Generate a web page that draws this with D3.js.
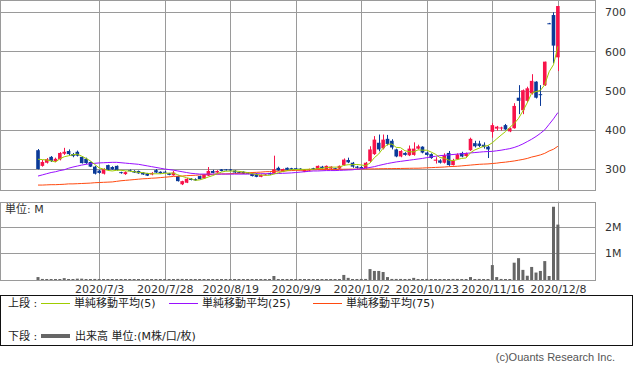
<!DOCTYPE html>
<html>
<head>
<meta charset="utf-8">
<script src="https://cdn.jsdelivr.net/npm/d3@7"></script>
<style>
  body { margin: 0; background: #fff; }
  svg { display: block; font-family: "DejaVu Sans", "Noto Sans CJK JP", sans-serif; }
</style>
</head>
<body>
<svg id="chart" width="633" height="373"></svg>
<script>
// daily bars, 2020/6/15 .. 2020/12/8 (index 0..119)
const opens = [348,308,316,331,320,325,339,346,338,344, 331,326,318,306,296,288,310,305,308,292,
  287,297,295,295,291,289,286,297,293,293, 289,284,282,261,265,275,274,282,276,283,
  295,291,299,299,299,296,292,293,291,288, 288,280,285,290,289,303,293,303,302,302,
  301,293,296,302,299,306,300,301,302,301, 310,323,316,306,305,302,320,338,367,353,
  377,372,350,332,341,335,336,352,357,342, 338,321,322,316,341,310,325,341,333,348,
  366,365,362,357,395,403,405,412,396,404, 482,450,474,493,523,491,514,672,693,585];
const highs = [351,323,328,333,329,343,354,350,341,347, 333,329,319,308,298,302,311,307,309,293,
  294,299,297,296,292,290,292,300,294,295, 290,295,283,270,277,277,276,283,287,305,
  298,297,300,300,300,297,293,294,292,289, 289,286,287,291,334,306,301,304,303,303,
  302,300,301,303,309,308,309,307,303,309, 327,329,318,308,307,318,358,384,388,388,
  387,376,352,348,343,360,368,362,358,344, 340,330,325,340,346,326,340,344,342,380,
  372,372,368,360,417,410,408,415,406,468, 514,503,510,542,524,514,574,673,700,716];
const lows = [299,306,314,318,318,322,336,334,330,332, 314,313,305,286,288,286,296,298,296,288,
  285,294,290,288,285,282,284,290,288,291, 284,283,268,259,264,271,270,273,275,282,
  289,290,294,296,295,290,290,287,287,281, 279,279,284,285,288,295,292,297,298,298,
  299,292,295,298,298,301,299,300,299,300, 308,315,303,301,299,301,318,336,345,350,
  360,350,330,330,334,333,334,350,340,334, 326,314,314,314,308,309,324,330,331,346,
  355,356,352,328,380,398,398,400,394,403, 440,440,470,490,480,461,512,670,570,550];
const closes = [300,318,325,320,326,341,344,338,333,334, 315,315,306,288,290,300,298,299,297,290,
  292,295,291,289,286,283,290,291,289,292, 285,291,269,269,275,272,271,274,286,295,
  290,295,295,297,296,291,291,288,288,282, 280,285,286,286,299,296,300,298,299,299,
  300,299,300,299,308,302,308,306,300,308, 324,317,306,303,301,316,350,375,350,375,
  364,355,332,346,336,352,352,358,342,336, 328,324,316,335,310,322,337,332,340,377,
  358,359,356,350,412,408,406,401,404,461, 474,501,506,525,482,489,574,671,615,716];

// moving averages as drawn (5 / 25 / 75 days)
const ma5 = [325,324,323,321,317.8,326,331.2,333.8,336.4,338, 332.8,327,320.6,311.6,302.8,299.8,296.4,295,296.8,296.8,
  295.2,294.6,293,291.4,290.6,288.8,287.8,287.8,287.8,289, 289.4,289.6,285.2,281.2,277.8,275.2,271.2,272.2,275.6,279.6,
  283.2,288,292.2,294.4,294.6,294.8,294,292.6,290.8,288, 285.8,284.6,284.2,283.8,287.2,290.4,293.4,295.8,298.4,298.4,
  299.2,299,299.4,299.4,301.2,301.6,303.4,304.6,304.8,304.8, 309.2,311,311,311.6,310.2,308.6,315.2,329,338.4,353.2,
  362.8,363.8,355.2,354.4,346.6,344.2,343.6,348.8,348,348, 343.2,337.6,329.2,327.8,322.6,321.4,324,327.2,328.2,341.6,
  348.8,353.2,358,360,367,377,386.4,395.4,406.2,416, 429.2,448.2,469.2,493.4,497.6,500.6,515.2,548.2,566.2,613];
const ma25 = [282,285,288,291,293,296,298,302,305,307.5, 310,312,313.5,314.5,315.5,316,316.5,317,317,316,
  315,314,313,312,310,308,306,304,302,300, 298.5,297,295,293,291,289,288,287,287,287,
  287,287,287,287,287,287,287,287,287,287.5, 287.5,288,288,288,288,288.5,289,289.5,290,291,
  292,293,294,295,295,295.5,296,296,296,296.5, 297,297.5,298,299.5,300.5,302,304,306,309,311.5,
  314,316,318,319.5,321,322.5,324,325.5,327,329, 331,332.5,334,335,336,337,338,339,340,341,
  342,343,344,344.5,345,346.5,348,350,352,355, 359,364,370,376,383,391,400,414,428,444];
const ma75 = [259,259,259.5,260,260,260.5,261,262,262,262.5, 263,263.5,264,265,265.5,266,266.5,267,268.5,270,
  271,272,273,274,275,275.5,276.5,277,278,279, 280,281,281.5,282,283,283.5,284,285,285.5,286,
  286.5,287,287.5,287.5,288,288.5,289,289.5,290,291, 291.5,292,293,293.5,294,294.5,295,295.5,296,296.5,
  296.6,297,297.5,298,298.3,298.5,298.7,299,299,299.2, 299.4,299.6,299.7,299.8,300,300,300.2,300.4,300.6,300.8,
  301,301,301.2,301.4,301.6,301.8,302,302,302.5,303, 303.5,304,304.5,305,306,306.5,307,308,309,310,
  311,312,312.5,313,314,315,316.5,317.5,319,320.5, 322.5,324.5,327,330.5,333,336,340,346,350.5,358];

// volume, millions
const volumes = [0.11,0.04,0.02,0.02,0.02,0.02,0.07,0.03,0.02,0.05, 0.05,0.02,0.01,0.04,0.02,0.01,0.02,0.01,0.01,0.02,
  0.01,0.01,0.02,0.01,0.01,0.01,0.02,0.01,0.01,0.01, 0.01,0.02,0.04,0.04,0.02,0.01,0.01,0.01,0.01,0.03,
  0.01,0.01,0.01,0.02,0.01,0.01,0.01,0.01,0.01,0.01, 0.01,0.01,0.01,0.01,0.15,0.02,0.01,0.01,0.01,0.01,
  0.01,0.01,0.01,0.01,0.02,0.01,0.01,0.01,0.01,0.02, 0.19,0.08,0.02,0.01,0.04,0.04,0.41,0.34,0.34,0.30,
  0.11,0.04,0.04,0.04,0.02,0.04,0.08,0.02,0.01,0.04, 0.01,0.01,0.02,0.01,0.02,0.04,0.04,0.02,0.02,0.11,
  0.02,0.04,0.02,0.02,0.56,0.11,0.04,0.02,0.02,0.65, 0.82,0.38,0.16,0.49,0.28,0.34,0.71,0.15,2.75,2.08];

const tickLabels = ['2020/7/3', '2020/7/28', '2020/8/19', '2020/9/9', '2020/10/2', '2020/10/23', '2020/11/16', '2020/12/8'];
const tickIndex = [14, 29, 44, 59, 74, 89, 104, 119];
const priceTicks = [300, 400, 500, 600, 700];
const volumeTicks = [1, 2];

const upColor = '#f7134a', downColor = '#0b3a98';
const gridColor = '#9a9a9a';

const svg = d3.select('#chart');
const panelRight = 595;

const x = d3.scaleLinear().domain([-8.7, 127.5]).range([0, panelRight]);
const y = d3.scaleLinear().domain([246.4, 731.4]).range([190, 0]);
const yv = d3.scaleLinear().domain([0, 2.94]).range([280, 201.7]);

const px = v => Math.round(v) + 0.5;

// --- grids
function drawPanel(top, bottom, hValues, scale) {
    const g = svg.append('g').attr('stroke', gridColor).attr('fill', 'none');
    g.append('rect')
        .attr('x', 0.5).attr('y', px(top))
        .attr('width', panelRight).attr('height', Math.round(bottom) - Math.round(top));
    g.selectAll('.h').data(hValues).enter().append('line')
        .attr('x1', 0).attr('x2', panelRight + 0.5)
        .attr('y1', d => px(scale(d))).attr('y2', d => px(scale(d)));
    g.selectAll('.v').data(tickIndex).enter().append('line')
        .attr('x1', d => px(x(d))).attr('x2', d => px(x(d)))
        .attr('y1', top).attr('y2', bottom);
}
drawPanel(0, 190, priceTicks, y);
drawPanel(201.7, 280, volumeTicks, yv);

// --- candles
const candles = svg.append('g');
closes.forEach(function (c, i) {
    const o = opens[i];
    const col = c >= o ? upColor : downColor;
    const cx = px(x(i));
    candles.append('line')
        .attr('x1', cx).attr('x2', cx)
        .attr('y1', y(highs[i])).attr('y2', y(lows[i]))
        .attr('stroke', col).attr('stroke-width', 1);
    const top = y(Math.max(o, c)), bot = y(Math.min(o, c));
    candles.append('rect')
        .attr('x', x(i) - 1.8).attr('width', 3.6)
        .attr('y', top).attr('height', Math.max(1, bot - top))
        .attr('fill', col);
});

// --- moving averages
const maLine = d3.line().x((d, i) => x(i)).y(d => y(d));
[[ma75, '#ff4a10'], [ma25, '#9a10ff'], [ma5, '#9fcc00']].forEach(function (m) {
    svg.append('path').datum(m[0])
        .attr('d', maLine)
        .attr('fill', 'none')
        .attr('stroke', m[1])
        .attr('stroke-width', 1);
});

// --- volume
svg.append('g').selectAll('rect').data(volumes).enter().append('rect')
    .attr('x', (d, i) => x(i) - 1.5)
    .attr('width', 3)
    .attr('y', d => Math.min(yv(d), 279))
    .attr('height', d => Math.max(1, 280 - yv(d)))
    .attr('fill', '#666');

// --- axes
const priceAxis = svg.append('g')
    .attr('transform', 'translate(' + panelRight + ',0)')
    .call(d3.axisRight(y).tickValues(priceTicks).tickSize(0).tickPadding(10));
const volAxis = svg.append('g')
    .attr('transform', 'translate(' + panelRight + ',0)')
    .call(d3.axisRight(yv).tickValues(volumeTicks).tickSize(0).tickPadding(10).tickFormat(d => d + 'M'));
const dateAxis = svg.append('g')
    .attr('transform', 'translate(0,280)')
    .call(d3.axisBottom(x).tickValues(tickIndex).tickSize(0).tickPadding(5)
        .tickFormat((d, i) => tickLabels[i]));
[priceAxis, volAxis, dateAxis].forEach(function (a) {
    a.select('.domain').remove();
    a.selectAll('text').attr('font-size', 11).attr('fill', '#333')
        .attr('font-family', '"DejaVu Sans", sans-serif');
});

svg.append('text').attr('x', 5).attr('y', 213)
    .attr('font-size', 11).attr('fill', '#333').text('単位: M');

// --- legend
const legend = svg.append('g').attr('font-size', 11).attr('fill', '#222');
legend.append('rect').attr('x', 0.5).attr('y', 295.5).attr('width', 632).attr('height', 50)
    .attr('fill', 'none').attr('stroke', '#111');
legend.append('text').attr('x', 8).attr('y', 307).text('上段 :');
const legendItems = [
    { x: 41, label: '単純移動平均(5)', color: '#9fcc00' },
    { x: 169, label: '単純移動平均(25)', color: '#9a10ff' },
    { x: 313, label: '単純移動平均(75)', color: '#ff4a10' }
];
legendItems.forEach(function (it) {
    legend.append('line').attr('x1', it.x).attr('x2', it.x + 29)
        .attr('y1', 303.5).attr('y2', 303.5).attr('stroke', it.color);
    legend.append('text').attr('x', it.x + 33).attr('y', 307).text(it.label);
});
legend.append('text').attr('x', 8).attr('y', 340).text('下段 :');
legend.append('line').attr('x1', 41).attr('x2', 70).attr('y1', 336).attr('y2', 336)
    .attr('stroke', '#666').attr('stroke-width', 4);
legend.append('text').attr('x', 75).attr('y', 340).text('出来高 単位:(M株/口/枚)');

svg.append('text').attr('x', 615).attr('y', 361).attr('text-anchor', 'end')
    .attr('font-family', '"Liberation Sans", sans-serif')
    .attr('font-size', 11).attr('fill', '#555').text('(c)Ouants Research Inc.');
</script>
</body>
</html>
